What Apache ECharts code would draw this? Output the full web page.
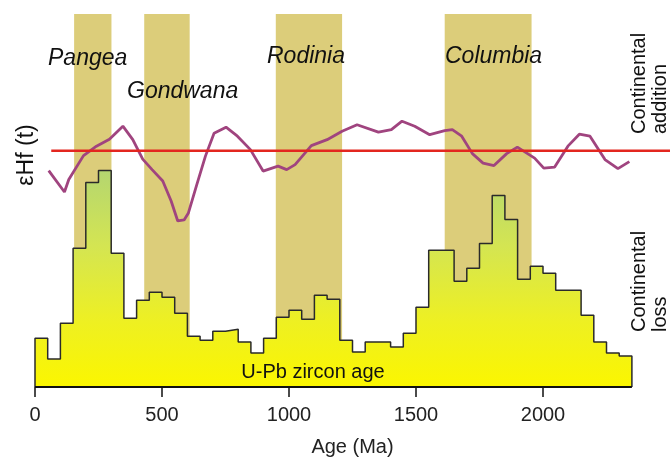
<!DOCTYPE html>
<html><head><meta charset="utf-8">
<script src="https://cdn.jsdelivr.net/npm/echarts@6/dist/echarts.min.js"></script>
<style>html,body{margin:0;padding:0;background:#fff}#c{width:670px;height:462px}</style>
</head><body><div id="c"></div>
<script>
// Zircon U-Pb age histogram (50 Ma bins), arbitrary count units
const binEdges = [0,50,100,150,200,250,300,350,400,450,500,550,600,650,700,750,800,850,900,950,1000,1050,1100,1150,1200,1250,1300,1350,1400,1450,1500,1550,1600,1650,1700,1750,1800,1850,1900,1950,2000,2050,2100,2150,2200,2250,2300,2350];
const zirconCounts = [49,28,64,139,205,217,134,69,87,95,90,74,51,47,56,58,45,34,49,70,77,68,92,88,47,35,45,45,40,54,80,137,137,106,119,144,192,168,108,121,114,97,97,72,45,34,31];
// εHf(t) running mean (relative units)
const ehfAges = [54,116,133,191,242,293,346,385,424,461,503,536,562,587,604,637,671,705,752,797,848,898,957,991,1024,1088,1150,1209,1268,1352,1403,1445,1495,1554,1613,1643,1680,1722,1764,1807,1857,1899,1967,2003,2046,2098,2143,2185,2244,2295,2340];
const ehfValues = [-4.0,-8.3,-5.8,-1.0,0.9,2.3,4.9,2.2,-1.7,-3.8,-6.1,-10.1,-14.1,-13.9,-12.5,-6.8,-1.1,3.5,4.7,2.9,0.2,-4.1,-3.1,-3.8,-2.8,1.0,2.2,3.9,5.2,3.7,4.2,5.9,4.9,3.2,4.0,4.2,2.9,-0.6,-2.5,-3.0,-0.6,0.7,-1.5,-3.5,-3.3,0.9,3.3,2.9,-1.8,-3.6,-2.2];
// Supercontinent assembly intervals (Ma)
const bandNames = ['Pangea','Gondwana','Rodinia','Columbia'];
const bandStart = [154,430,948,1613];
const bandEnd = [301,609,1209,1955];
const xTicks = [0,500,1000,1500,2000];
const referenceLine = [64,2500];

const histData = [[binEdges[0],0]];
for (let i = 0; i < zirconCounts.length; i++) histData.push([binEdges[i], zirconCounts[i]]);
histData.push([binEdges[binEdges.length-1], zirconCounts[zirconCounts.length-1]]);
histData.push([binEdges[binEdges.length-1], 0]);
const ehfData = ehfAges.map((a,i)=>[a, ehfValues[i]]);
const bandData = bandStart.map((s,i)=>[s, bandEnd[i]]);

const FONT = 'Liberation Sans, Arial, Helvetica, sans-serif';
const chart = echarts.init(document.getElementById('c'), null, {renderer:'canvas'});
chart.setOption({
  animation:false,
  backgroundColor:'#fff',
  grid:{left:35, right:0, top:14, bottom:74},
  xAxis:{type:'value', min:0, max:2500,
    axisLine:{show:false},
    splitLine:{show:false},
    axisTick:{show:true, customValues:xTicks, length:10, lineStyle:{color:'#111', width:1.5}},
    axisLabel:{customValues:xTicks, margin:18, fontSize:20, color:'#222', fontFamily:FONT,
      formatter:function(v){return String(v);}},
    name:'Age (Ma)', nameLocation:'middle', nameGap:50,
    nameTextStyle:{fontSize:20, color:'#222', fontFamily:FONT}
  },
  yAxis:[
    {type:'value', min:0, max:374, show:false},
    {type:'value', min:-47.4, max:27.4, show:false}
  ],
  series:[
    {type:'custom', z:1, yAxisIndex:0, data:bandData, silent:true,
      renderItem:function(params, api){
        const p0 = api.coord([api.value(0), 374]);
        const p1 = api.coord([api.value(1), 0]);
        return {type:'rect', shape:{x:p0[0], y:p0[1], width:p1[0]-p0[0], height:p1[1]-p0[1]},
          style:{fill:'#dccd7a'}};
      }},
    {type:'line', z:2, yAxisIndex:0, data:histData, step:'end', symbol:'none',
      lineStyle:{color:'#2a2a2a', width:1.5},
      areaStyle:{opacity:1, color:new echarts.graphic.LinearGradient(0,0,0,1,[
        {offset:0, color:'#b4d670'},{offset:0.35, color:'#d4e552'},
        {offset:0.7, color:'#eef022'},{offset:1, color:'#fbf600'}])}},
    {type:'line', z:3, yAxisIndex:0, data:[[binEdges[0],0],[binEdges[binEdges.length-1],0]],
      symbol:'none', lineStyle:{color:'#111', width:2}},
    {type:'line', z:4, yAxisIndex:1, data:ehfData, symbol:'none',
      lineStyle:{color:'#a0447f', width:2.8}},
    {type:'line', z:5, yAxisIndex:1, data:[[referenceLine[0],0],[referenceLine[1],0]], symbol:'none',
      lineStyle:{color:'#e3261f', width:2.5}}
  ],
  graphic:[
    {type:'text', z:100, left:48, top:47, style:{text:bandNames[0], font:'italic 23px '+FONT, fill:'#111'}},
    {type:'text', z:100, left:127, top:80, style:{text:bandNames[1], font:'italic 23px '+FONT, fill:'#111'}},
    {type:'text', z:100, left:267, top:45, style:{text:bandNames[2], font:'italic 23px '+FONT, fill:'#111'}},
    {type:'text', z:100, left:445, top:45, style:{text:bandNames[3], font:'italic 23px '+FONT, fill:'#111'}},
    {type:'text', z:100, x:313, y:372, style:{text:'U-Pb zircon age', font:'20px '+FONT, fill:'#111', textAlign:'center', textVerticalAlign:'middle'}},
    {type:'text', z:100, x:27, y:155, rotation:Math.PI/2, style:{text:'εHf (t)', font:'23px '+FONT, fill:'#111', textAlign:'center', textVerticalAlign:'middle'}},
    {type:'text', z:100, x:650, y:134, rotation:Math.PI/2, style:{text:'Continental\naddition', font:'20px '+FONT, lineHeight:21, fill:'#111', textAlign:'left', textVerticalAlign:'middle'}},
    {type:'text', z:100, x:650, y:332, rotation:Math.PI/2, style:{text:'Continental\nloss', font:'20px '+FONT, lineHeight:21, fill:'#111', textAlign:'left', textVerticalAlign:'middle'}}
  ]
});
</script></body></html>
